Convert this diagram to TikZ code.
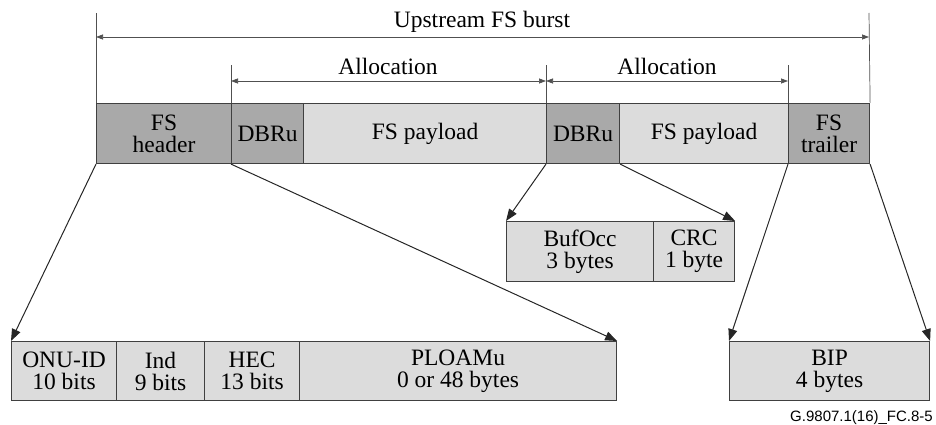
\documentclass[tikz,border=0pt]{standalone}
\usepackage{fontspec}
\setmainfont{Liberation Serif}
\newfontfamily\labelfont{Liberation Sans}
\usetikzlibrary{arrows.meta}
\definecolor{darkfill}{HTML}{A9A9A9}
\definecolor{lightfill}{HTML}{DCDCDC}
\definecolor{edgecol}{HTML}{404040}
\definecolor{dimcol}{HTML}{505050}
\begin{document}
\begin{tikzpicture}[x=1pt,y=-1pt,
  boxbase/.style={draw=edgecol, line width=1.1pt, inner sep=0pt, anchor=north west,
    align=center, font=\fontsize{23.5}{22}\selectfont},
  darkbox/.style={boxbase, fill=darkfill, minimum height=60pt},
  lightbox/.style={boxbase, fill=lightfill, minimum height=60pt},
  ptr/.style={draw=black!85, line width=1pt, -{Triangle[length=12pt,width=9pt]}},
  dimline/.style={draw=dimcol, line width=0.7pt},
  dimarrow/.style={dimline, {Triangle[length=7pt,width=5pt]}-{Triangle[length=7pt,width=5pt]}},
  dimtext/.style={font=\fontsize{23.5}{22}\selectfont, anchor=base, inner sep=0pt}
]
\useasboundingbox (0,0) rectangle (936,425);

% top row
\node[darkbox, minimum width=135pt] (hdr) at (96,103) {FS\\header};
\node[darkbox, minimum width=72pt] (dbr1) at (231,103) {DBRu};
\node[lightbox, minimum width=243pt] (pay1) at (303,103) {FS payload};
\node[darkbox, minimum width=73pt] (dbr2) at (546,103) {DBRu};
\node[lightbox, minimum width=169pt] (pay2) at (619,103) {FS payload};
\node[darkbox, minimum width=81pt] (trl) at (788,103) {FS\\trailer};

% middle row
\node[lightbox, minimum width=147pt, minimum height=60pt] (buf) at (506,221) {BufOcc\\3 bytes};
\node[lightbox, minimum width=81pt, minimum height=60pt] (crc) at (653,221) {CRC\\1 byte};

% bottom row
\node[lightbox, minimum width=105pt, minimum height=59pt] (onu) at (11,341) {ONU-ID\\10 bits};
\node[lightbox, minimum width=88pt, minimum height=59pt] (ind) at (116,341) {Ind\\9 bits};
\node[lightbox, minimum width=95pt, minimum height=59pt] (hec) at (204,341) {HEC\\13 bits};
\node[lightbox, minimum width=317pt, minimum height=59pt] (plo) at (299,341) {PLOAMu\\0 or 48 bytes};
\node[lightbox, minimum width=200pt, minimum height=59pt] (bip) at (729,341) {BIP\\4 bytes};

% dimension lines
\coordinate (u1) at (96,13);
\coordinate (u2) at (869,13);
\coordinate (a1) at (231,65);
\coordinate (a2) at (546,65);
\coordinate (a3) at (788,65);
\draw[dimline] (hdr.north west) -- (u1);
\draw[dimline] (trl.north east) -- (u2);
\draw[dimline] (dbr1.north west) -- (a1);
\draw[dimline] (dbr2.north west) -- (a2);
\draw[dimline] (trl.north west) -- (a3);
\draw[dimarrow] (96,37) -- (869,37);
\draw[dimarrow] (231,81) -- (546,81);
\draw[dimarrow] (546,81) -- (788,81);
\node[dimtext] (lup) at (482,28) {Upstream FS burst};
\node[dimtext] (lal1) at (388,75) {Allocation};
\node[dimtext] (lal2) at (667,75) {Allocation};

% pointers
\draw[ptr] (hdr.south west) -- (onu.north west);
\draw[ptr] (dbr1.south west) -- (plo.north east);
\draw[ptr] (dbr2.south west) -- (buf.north west);
\draw[ptr] (dbr2.south east) -- (crc.north east);
\draw[ptr] (trl.south west) -- (bip.north west);
\draw[ptr] (trl.south east) -- (bip.north east);

% figure label
\node[anchor=base east, inner sep=0pt, font=\labelfont\fontsize{15}{15}\selectfont] (fig) at (933,421) {G.9807.1(16)\_FC.8-5};
\end{tikzpicture}
\end{document}
